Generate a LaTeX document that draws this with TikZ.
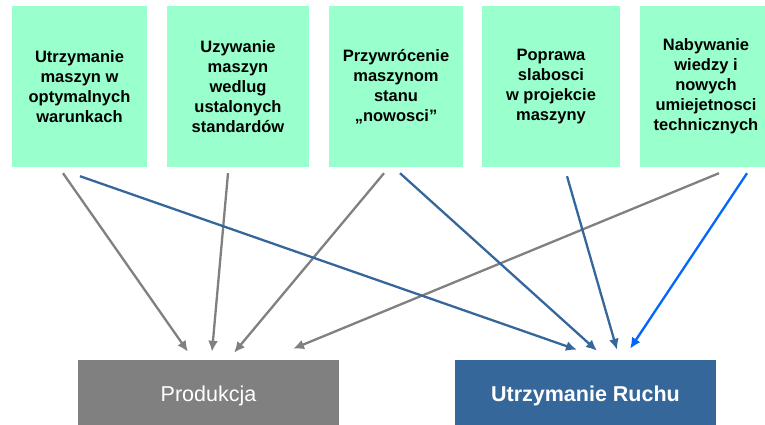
\documentclass[tikz,border=0pt]{standalone}
\usepackage{fontspec}
\setmainfont{Liberation Sans}
\usetikzlibrary{arrows.meta}
\definecolor{taskgreen}{RGB}{153,255,204}
\definecolor{prodgray}{RGB}{128,128,128}
\definecolor{urblue}{RGB}{53,103,154}
\definecolor{lightblue}{RGB}{0,102,255}
\tikzset{
	task/.style={fill=taskgreen, minimum height=161pt, align=center,
		font=\fontsize{16.5}{20}\selectfont\bfseries, inner sep=0pt},
	dept/.style={minimum width=261pt, minimum height=72pt, inner sep=0pt,
		text=white, font=\fontsize{21.5}{24}\selectfont},
	grayarrow/.style={draw=prodgray, line width=2.3pt, -{Latex[length=11pt,width=10pt]}},
	bluearrow/.style={draw=urblue, line width=2.3pt, -{Latex[length=11pt,width=10pt]}},
}

\begin{document}
\begin{tikzpicture}[x=1pt, y=-1pt]
	% page: 765 x 425, y pointing down
	\useasboundingbox (0, 0) rectangle (765, 425);
	\clip (0, 0) rectangle (765, 425);
	
	% five tasks
	\node[task, minimum width=135pt] (u1) at (79.5, 86.5) {Utrzymanie\\maszyn w\\optymalnych\\warunkach};
	\node[task, minimum width=142pt] (u2) at (238, 86.5) {Uzywanie\\maszyn\\wedlug\\ustalonych\\standardów};
	\node[task, minimum width=134pt] (u3) at (396, 86.5) {Przywrócenie\\maszynom\\stanu\\„nowosci”};
	\node[task, minimum width=138pt] (u4) at (551, 86.5) {Poprawa\\slabosci\\w projekcie\\maszyny};
	\node[task, minimum width=132pt] (u5) at (706, 86.5) {Nabywanie\\wiedzy i\\nowych\\umiejetnosci\\technicznych};
	
	% departments
	\node[dept, fill=prodgray] (prod) at (208.5, 396) {Produkcja};
	\node[dept, fill=urblue, font=\fontsize{21.5}{24}\selectfont\bfseries] (ur) at (585.5, 396) {Utrzymanie Ruchu};
	
	% arrows to Produkcja
	\draw[grayarrow] ([xshift=-16.5pt, yshift=-6pt]u1.south) -- ([xshift=-20.5pt, yshift=8pt]prod.north);
	\draw[grayarrow] ([xshift=-10pt, yshift=-6pt]u2.south) -- ([xshift=3.5pt, yshift=8pt]prod.north);
	\draw[grayarrow] ([xshift=-12pt, yshift=-6pt]u3.south) -- ([xshift=25.5pt, yshift=7pt]prod.north);
	\draw[grayarrow] ([xshift=13pt, yshift=-6pt]u5.south) -- ([xshift=84.5pt, yshift=11pt]prod.north);
	
	% arrows to Utrzymanie Ruchu
	\draw[bluearrow] ([xshift=0.5pt, yshift=-9pt]u1.south) -- ([xshift=-8.5pt, yshift=10pt]ur.north);
	\draw[bluearrow] ([xshift=4pt, yshift=-6pt]u3.south) -- ([xshift=11.5pt, yshift=9pt]ur.north);
	\draw[bluearrow] ([xshift=16pt, yshift=-9pt]u4.south) -- ([xshift=31.5pt, yshift=10pt]ur.north);
	\draw[bluearrow, draw=lightblue] ([xshift=41pt, yshift=-6pt]u5.south) -- ([xshift=44.5pt, yshift=11pt]ur.north);
\end{tikzpicture}
\end{document}
